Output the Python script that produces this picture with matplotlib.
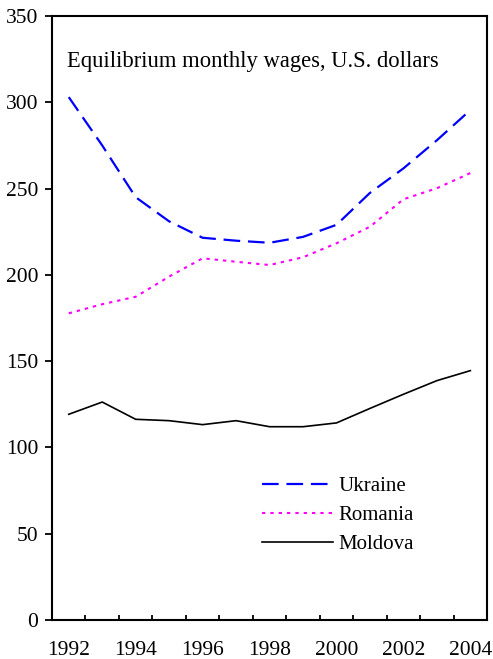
import numpy as np
import matplotlib
matplotlib.use("Agg")
import matplotlib.pyplot as plt
from matplotlib.ticker import FixedLocator

plt.rcParams['font.family'] = ['Liberation Serif', 'DejaVu Serif']

years = list(range(1992, 2005))
ukraine = [303, 275, 245, 231, 221.5, 219.8, 218.6, 222, 229, 247.5, 261.7, 278, 295.5]
romania = [177.7, 183, 187.3, 199, 209.6, 207.6, 205.7, 210.2, 218.3, 227.9, 243.8, 250.2, 259]
moldova = [119.2, 126.3, 116.3, 115.5, 113.2, 115.5, 112, 112, 114.2, 122.6, 130.8, 138.7, 144.5]
year_labels = ["1992", "1994", "1996", "1998", "2000", "2002", "2004"]

fig = plt.figure(figsize=(4.93, 6.59), dpi=100)
ax = fig.add_axes([0.1055, 0.0592, 0.8825, 0.9165])

x = np.arange(len(years))
ax.plot(x, ukraine, color='#0000ff', lw=1.6, dashes=(7.5, 3.5), label='Ukraine')
ax.plot(x, romania, color='#ff00ff', lw=1.5, dashes=(1.6, 2.4), label='Romania')
ax.plot(x, moldova, color='black', lw=1.2, label='Moldova')

ax.set_xlim(-0.5, len(years) - 0.5)
ax.set_ylim(0, 350)
ax.set_yticks(range(0, 351, 50))
ax.set_xticks(x[::2])
ax.set_xticklabels(year_labels)
ax.xaxis.set_minor_locator(FixedLocator(x[:-1] + 0.5))

ax.tick_params(axis='x', which='major', length=0, pad=15, labelsize=15.5)
ax.tick_params(axis='x', which='minor', direction='in', length=3.5, width=1.3)
ax.tick_params(axis='y', direction='out', length=5, width=1.3, pad=5, labelsize=15.5)

for sp in ax.spines.values():
    sp.set_linewidth(1.5)

ax.text(0.035, 0.925, 'Equilibrium monthly wages, U.S. dollars',
        transform=ax.transAxes, fontsize=16.3, va='center', ha='left')

ax.legend(loc='upper left', bbox_to_anchor=(0.4385, 0.268), frameon=False,
          fontsize=15, handlelength=3.45, handletextpad=0.25, labelspacing=0.45)

fig.savefig('out.png', dpi=100)
